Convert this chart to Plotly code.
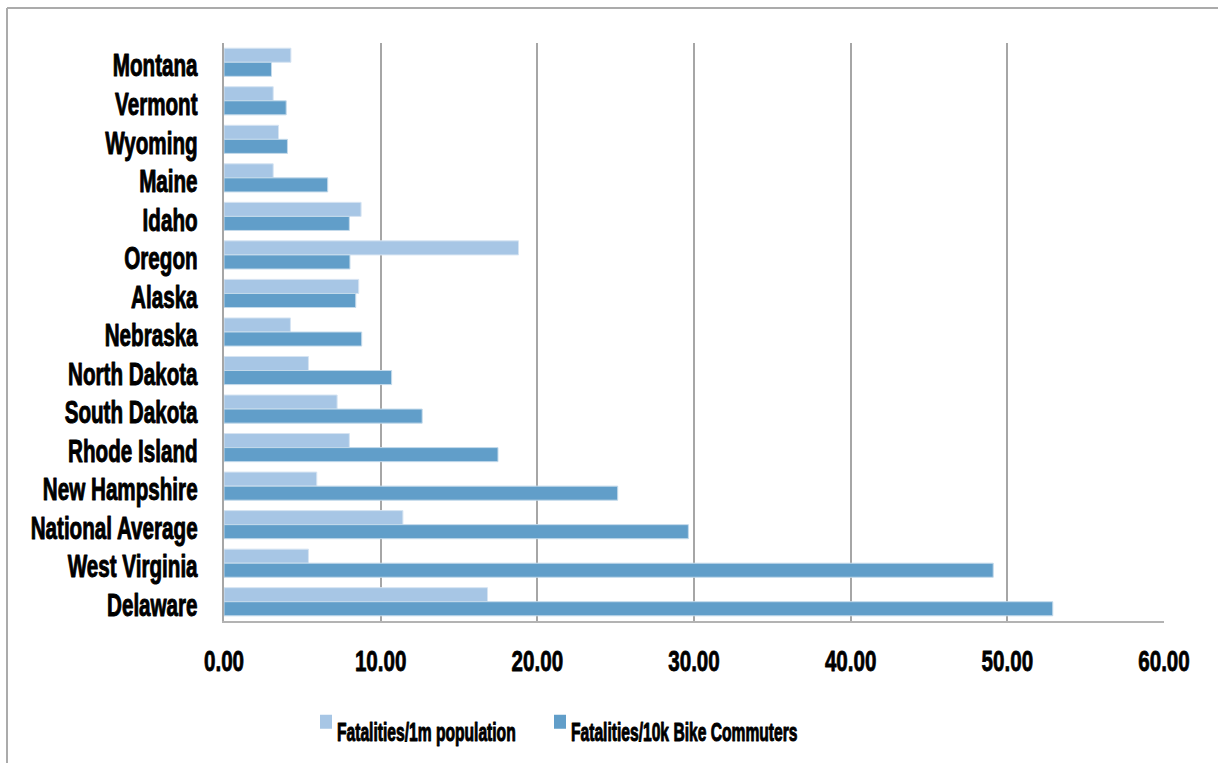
import plotly.graph_objects as go

states = ["Montana", "Vermont", "Wyoming", "Maine", "Idaho", "Oregon", "Alaska",
          "Nebraska", "North Dakota", "South Dakota", "Rhode Island", "New Hampshire",
          "National Average", "West Virginia", "Delaware"]
per_1m_pop = [4.27, 3.14, 3.48, 3.14, 8.75, 18.80, 8.60, 4.24, 5.39, 7.22, 8.00, 5.92,
              11.42, 5.39, 16.82]
per_10k_commuters = [3.03, 3.97, 4.05, 6.62, 8.00, 8.04, 8.41, 8.79, 10.70, 12.65,
                     17.49, 25.13, 29.64, 49.10, 52.90]
x_ticks = [0, 10, 20, 30, 40, 50, 60]
x_tick_labels = ["0.00", "10.00", "20.00", "30.00", "40.00", "50.00", "60.00"]
series_names = ["Fatalities/1m population", "Fatalities/10k Bike Commuters"]

FONT = "Liberation Sans, Arial, sans-serif"
W, H = 1218, 763
L, R, T, B = 224, 54, 43, 142
pw = W - L - R
ph = H - T - B

fig = go.Figure()
fig.add_trace(go.Bar(
    y=states, x=per_1m_pop, orientation="h", name="<b>" + series_names[0] + "</b>",
    marker=dict(color="#a7c6e5", line=dict(color="#d6e4f2", width=1)),
))
fig.add_trace(go.Bar(
    y=states, x=per_10k_commuters, orientation="h", name="<b>" + series_names[1] + "</b>",
    marker=dict(color="#619ec9", line=dict(color="#c4daeb", width=1)),
))

def px_x(p):
    return (p - L) / pw

def px_y(p):
    return 1 - (p - T) / ph

shapes = [
    dict(type="line", xref="paper", yref="paper", x0=px_x(7), x1=px_x(1240),
         y0=px_y(8), y1=px_y(8), line=dict(color="#ababab", width=2)),
    dict(type="line", xref="paper", yref="paper", x0=px_x(7), x1=px_x(7),
         y0=px_y(8), y1=px_y(790), line=dict(color="#ababab", width=2)),
]

fig.update_layout(
    template="none",
    width=W, height=H,
    margin=dict(l=L, r=R, t=T, b=B, autoexpand=False),
    paper_bgcolor="white", plot_bgcolor="white",
    barmode="group", bargap=0.27, bargroupgap=0,
    font=dict(family=FONT, color="black", size=26),
    shapes=shapes,
    showlegend=True,
    legend=dict(orientation="h", x=px_x(306), xanchor="left", y=px_y(731), yanchor="middle",
                font=dict(family=FONT, size=25, color="black"),
                traceorder="normal", entrywidth=189, entrywidthmode="pixels",
                bgcolor="rgba(0,0,0,0)", borderwidth=0),
    xaxis=dict(range=[0, 60], tickvals=x_ticks, ticktext=x_tick_labels,
               showgrid=True, gridcolor="#a6a6a6", gridwidth=2,
               showline=True, linecolor="#b3b3b3", linewidth=2, mirror=False,
               zeroline=False, ticks="", ticklabelstandoff=13, automargin=False,
               tickfont=dict(family=FONT, size=29, color="black", weight="bold")),
    yaxis=dict(autorange="reversed", type="category", showgrid=False,
               showline=True, linecolor="#a6a6a6", linewidth=2, automargin=False,
               ticks="", ticklabelstandoff=18,
               tickfont=dict(family=FONT, size=32, color="black", weight="bold")),
)

# Emulate the heavy condensed typeface of the original by narrowing the real text
# horizontally and thickening its strokes slightly; raise the legend swatches a bit.
post_js = """
function squeeze(sel, s, newX, dy, sw){
  document.querySelectorAll(sel).forEach(function(t){
    if (newX !== undefined) { t.setAttribute('x', newX); }
    var x = parseFloat(t.getAttribute('x') || 0), y = parseFloat(t.getAttribute('y') || 0);
    var tr = t.getAttribute('transform') || '';
    t.setAttribute('transform', tr + ' translate(' + x + ',' + (y + (dy || 0)) + ') scale(' + s + ',1) translate(' + (-x) + ',' + (-y) + ')');
    t.style.stroke = 'black';
    t.style.strokeWidth = sw + 'px';
    t.style.strokeLinejoin = 'round';
  });
}
squeeze('.ytick text', 0.645, undefined, 3, 1.0);
squeeze('.xtick text', 0.71, undefined, 0, 0.8);
squeeze('.legend .legendtext', 0.625, 31, 0, 1.0);
document.querySelectorAll('.legend [clip-path]').forEach(function(e){ e.removeAttribute('clip-path'); });
document.querySelectorAll('.legend .legendpoints path').forEach(function(p){
  p.setAttribute('d', 'M6,7H-6V-7H6Z');
  var tr = p.getAttribute('transform') || '';
  p.setAttribute('transform', tr + ' translate(0,-9)');
  p.style.strokeWidth = '0px';
});
"""

fig.write_html("out.html", post_script=post_js)
